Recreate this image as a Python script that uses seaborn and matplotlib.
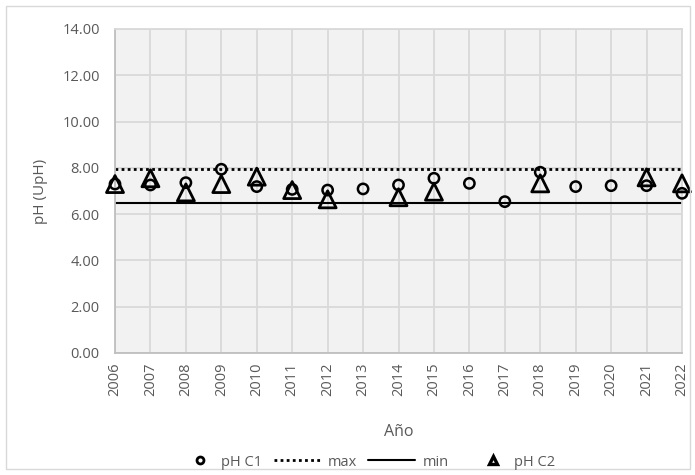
import matplotlib
matplotlib.use("Agg")
import matplotlib.pyplot as plt
import seaborn as sns
import numpy as np
import pandas as pd
from matplotlib.patches import Rectangle
from matplotlib.lines import Line2D
from matplotlib.legend_handler import HandlerBase

years = list(range(2006, 2023))
ph_c1 = [7.30, 7.26, 7.36, 7.94, 7.19, 7.07, 7.04, 7.09, 7.26, 7.55, 7.33, 6.54, 7.81, 7.19, 7.23, 7.23, 6.90]
ph_c2 = [7.30, 7.55, 6.94, 7.30, 7.62, 7.04, 6.64, np.nan, 6.73, 6.97, np.nan, np.nan, 7.33, np.nan, np.nan, 7.59, 7.33]
max_val = 7.94
min_val = 6.50
y_ticks = [0, 2, 4, 6, 8, 10, 12, 14]

df = pd.DataFrame({"Año": years, "pH C1": ph_c1, "pH C2": ph_c2,
                   "max": [max_val] * len(years), "min": [min_val] * len(years)})

sns.set_theme(style="white")
plt.rcParams["font.family"] = ["Open Sans", "DejaVu Sans"]
txt = "#595959"
grid = "#d9d9d9"
fs = 10.5
dot = (0, (1, 1.2))

fig = plt.figure(figsize=(6.95, 4.75), dpi=100)
ax = fig.add_axes([115 / 695, 1 - 353 / 475, (682 - 115) / 695, (353 - 29) / 475])
ax.set_facecolor("#f2f2f2")

sns.lineplot(data=df, x="Año", y="max", ax=ax, color="black", linestyle=dot, linewidth=2.0)
sns.lineplot(data=df, x="Año", y="min", ax=ax, color="black", linewidth=1.5)
sns.scatterplot(data=df, x="Año", y="pH C1", ax=ax, marker="o", s=55,
                facecolors="none", edgecolor="black", linewidth=1.8, zorder=4, clip_on=False)
sns.scatterplot(data=df, x="Año", y="pH C2", ax=ax, marker="^", s=150,
                facecolors="none", edgecolor="black", linewidth=2.0, zorder=5, clip_on=False)

ax.set_xlim(2006, 2022)
ax.set_ylim(0, 14)
ax.set_xticks(years)
ax.set_xticklabels([str(y) for y in years], rotation=90, color=txt, fontsize=fs)
ax.set_yticks(y_ticks)
ax.set_yticklabels([f"{v:.2f}" for v in y_ticks], color=txt, fontsize=fs)
ax.grid(True, color=grid, linewidth=1.3)
ax.set_axisbelow(True)
for s in ax.spines.values():
    s.set_color(grid)
    s.set_linewidth(1.3)
ax.spines["left"].set_color("#bfbfbf")
ax.spines["bottom"].set_color("#bfbfbf")
ax.tick_params(axis="x", length=0, pad=7)
ax.tick_params(axis="y", length=0, pad=11)
ax.set_xlabel("Año", color=txt, fontsize=11.5, labelpad=20)
ax.set_ylabel("pH (UpH)", color=txt, fontsize=11, labelpad=10)


class RightMarker(HandlerBase):
    def create_artists(self, legend, orig_handle, xdescent, ydescent, width, height, fontsize, trans):
        x = width - 10 - xdescent
        y = height / 2 - ydescent
        ln = Line2D([x], [y], linestyle="none", marker=orig_handle.get_marker(),
                    markersize=orig_handle.get_markersize(), markerfacecolor="none",
                    markeredgecolor="black", markeredgewidth=orig_handle.get_markeredgewidth())
        ln.set_transform(trans)
        return [ln]


h_c1 = Line2D([], [], marker="o", linestyle="none", markerfacecolor="none", markeredgecolor="black", markeredgewidth=2.0, markersize=5)
h_max = Line2D([], [], color="black", linestyle=dot, linewidth=2.0)
h_min = Line2D([], [], color="black", linewidth=1.5)
h_c2 = Line2D([], [], marker="^", linestyle="none", markerfacecolor="none", markeredgecolor="black", markeredgewidth=2.4, markersize=6)
fig.legend([h_c1, h_max, h_min, h_c2], ["pH C1", "max", "min", "pH C2"], loc="center",
           bbox_to_anchor=(361 / 695, 1 - 462 / 475), ncol=4, frameon=False, fontsize=fs,
           labelcolor=txt, handlelength=3.2, columnspacing=0.8, handletextpad=0.5,
           handler_map={h_c1: RightMarker(), h_c2: RightMarker()})

fig.patches.append(Rectangle((6 / 695, 6 / 475), 684 / 695, 463 / 475, transform=fig.transFigure,
                             fill=False, edgecolor="#d9d9d9", linewidth=1))

fig.savefig("out.png", dpi=100)
